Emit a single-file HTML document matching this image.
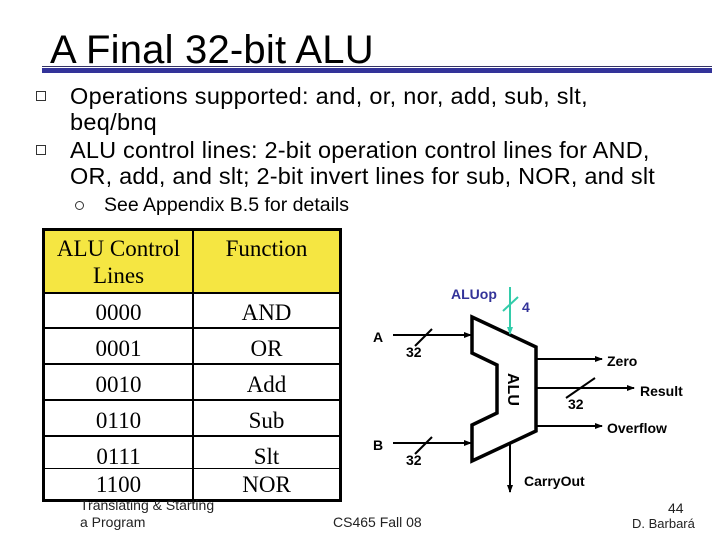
<!DOCTYPE html>
<html><head><style>
body{margin:0;width:720px;height:540px;background:#fff;position:relative;overflow:hidden;font-family:"Liberation Sans",sans-serif}
.a{position:absolute;white-space:nowrap}
.tb{position:absolute;left:42px;top:228px;width:300px;height:274px;box-sizing:border-box;border:3px solid #000}
.c{position:absolute;font-family:"Liberation Serif",serif;font-size:23px;text-align:center;line-height:27px}
</style></head><body>
<div class="a" style="left:50px;top:28px;font-size:40px;letter-spacing:0.2px">A Final 32-bit ALU</div>
<div class="a" style="left:42px;top:66px;width:670px;height:1px;background:#333366"></div>
<div class="a" style="left:42px;top:68px;width:670px;height:5px;background:#333399"></div>
<div class="a" style="left:36px;top:91px;width:8px;height:8px;border:1px solid #333"></div>
<div class="a" style="left:70px;top:83px;font-size:23.5px;line-height:26px;letter-spacing:0.3px">Operations supported: and, or, nor, add, sub, slt,<br>beq/bnq</div>
<div class="a" style="left:36px;top:145px;width:8px;height:8px;border:1px solid #333"></div>
<div class="a" style="left:70px;top:137px;font-size:23.5px;line-height:26px;letter-spacing:0.2px">ALU control lines: 2-bit operation control lines for AND,<br>OR, add, and slt; 2-bit invert lines for sub, NOR, and slt</div>
<div class="a" style="left:75px;top:201px;width:7px;height:7px;border:1px solid #333;border-radius:50%"></div>
<div class="a" style="left:104px;top:194px;font-size:19.5px">See Appendix B.5 for details</div>

<div class="tb">
<div class="a" style="left:0;top:0;width:294px;height:61px;background:#f5e642"></div>
<div class="a" style="left:147px;top:0;width:2px;height:268px;background:#000"></div>
<div class="a" style="left:0;top:61px;width:294px;height:2px;background:#000"></div>
<div class="a" style="left:0;top:96px;width:294px;height:2px;background:#000"></div>
<div class="a" style="left:0;top:132px;width:294px;height:2px;background:#000"></div>
<div class="a" style="left:0;top:168px;width:294px;height:2px;background:#000"></div>
<div class="a" style="left:0;top:204px;width:294px;height:2px;background:#000"></div>
<div class="a" style="left:0;top:237px;width:294px;height:1px;background:#000"></div>
<div class="c" style="left:0;top:4px;width:147px">ALU Control<br>Lines</div>
<div class="c" style="left:149px;top:4px;width:145px">Function</div>
<div class="c" style="left:0;top:68px;width:147px">0000</div><div class="c" style="left:149px;top:68px;width:145px">AND</div>
<div class="c" style="left:0;top:104px;width:147px">0001</div><div class="c" style="left:149px;top:104px;width:145px">OR</div>
<div class="c" style="left:0;top:140px;width:147px">0010</div><div class="c" style="left:149px;top:140px;width:145px">Add</div>
<div class="c" style="left:0;top:176px;width:147px">0110</div><div class="c" style="left:149px;top:176px;width:145px">Sub</div>
<div class="c" style="left:0;top:212px;width:147px">0111</div><div class="c" style="left:149px;top:212px;width:145px">Slt</div>
<div class="c" style="left:0;top:240px;width:147px">1100</div><div class="c" style="left:149px;top:240px;width:145px">NOR</div>
</div>
<div class="a" style="left:80px;top:497px;font-size:14px;line-height:17px;color:#222">Translating &amp; Starting<br>a Program</div>
<div class="a" style="left:333px;top:514px;font-size:14px;color:#222">CS465 Fall 08</div>
<div class="a" style="left:668px;top:500px;font-size:14px;color:#222">44</div>
<div class="a" style="left:632px;top:516px;font-size:13px;color:#222">D. Barbará</div>

<svg class="a" style="left:0;top:0" width="720" height="540">
<defs><marker id="ar" markerWidth="8" markerHeight="8" refX="7" refY="4" orient="auto" markerUnits="userSpaceOnUse"><path d="M0,1 L8,4 L0,7z" fill="#000"/></marker>
<marker id="ag" markerWidth="8" markerHeight="8" refX="7" refY="4" orient="auto" markerUnits="userSpaceOnUse"><path d="M0,1 L8,4 L0,7z" fill="#33ccaa"/></marker></defs>
<g stroke="#000" stroke-width="2" fill="none">
<polygon points="472,317 536,347 536,431 472,461 472,425 497,413 497,365 472,353" stroke-width="3.5"/>
<line x1="393" y1="335" x2="471" y2="335" marker-end="url(#ar)"/>
<line x1="393" y1="443" x2="471" y2="443" marker-end="url(#ar)"/>
<line x1="415" y1="346" x2="432" y2="329"/>
<line x1="415" y1="454" x2="432" y2="437"/>
<line x1="537" y1="359" x2="602" y2="359" marker-end="url(#ar)"/>
<line x1="537" y1="388" x2="634" y2="388" marker-end="url(#ar)"/>
<line x1="566" y1="398" x2="595" y2="378"/>
<line x1="537" y1="426" x2="602" y2="426" marker-end="url(#ar)"/>
<line x1="510" y1="442" x2="510" y2="492" marker-end="url(#ar)"/>
</g>
<line x1="510" y1="287" x2="510" y2="334" stroke="#33ccaa" stroke-width="2" marker-end="url(#ag)"/>
<line x1="503" y1="311" x2="518" y2="297" stroke="#33ccaa" stroke-width="2"/>
<g font-family="Liberation Sans,sans-serif" font-weight="bold" font-size="14">
<text x="451" y="299" fill="#333399">ALUop</text>
<text x="522" y="312" fill="#333399">4</text>
<text x="373" y="342">A</text>
<text x="373" y="450">B</text>
<text x="406" y="357">32</text>
<text x="406" y="465">32</text>
<text x="568" y="409">32</text>
<text x="607" y="366">Zero</text>
<text x="640" y="396">Result</text>
<text x="607" y="433">Overflow</text>
<text x="524" y="486">CarryOut</text>
<text transform="translate(508,373) rotate(90)" font-size="16">ALU</text>
</g>
</svg>
</body></html>
